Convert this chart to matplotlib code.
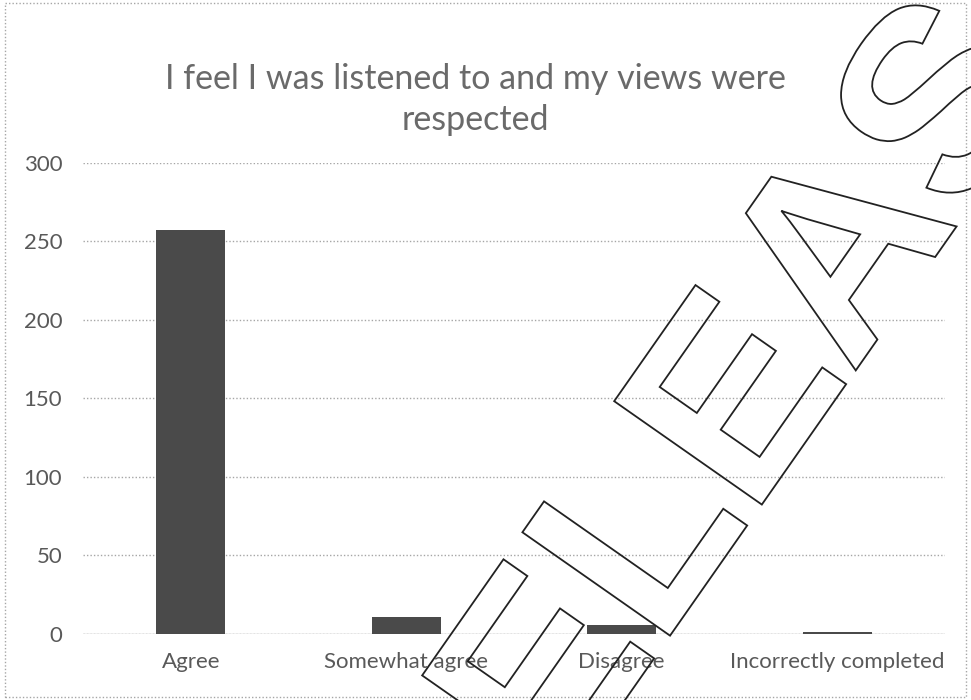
import matplotlib
matplotlib.use("Agg")
import matplotlib.pyplot as plt
from matplotlib.patches import Rectangle, PathPatch
from matplotlib.textpath import TextPath, text_to_path
from matplotlib.font_manager import FontProperties
from matplotlib.transforms import Affine2D, IdentityTransform

categories = ["Agree", "Somewhat agree", "Disagree", "Incorrectly completed"]
responses = [257, 11, 6, 1]
y_ticks = [0, 50, 100, 150, 200, 250, 300]
title = "I feel I was listened to and my views were\nrespected"
stamp = "RELEASED"

text_grey = "#595959"
grid_grey = "#a6a6a6"
bar_grey = "#4a4a4a"

plt.rcParams["font.family"] = ["Lato", "DejaVu Sans"]

fig = plt.figure(figsize=(9.71, 7.00), dpi=100)
ax = fig.add_axes([0.0855, 0.0943, 0.8877, 0.6729])

x = list(range(len(categories)))
ax.bar(x, responses, width=0.32, color=bar_grey, zorder=3)

ax.set_xlim(-0.5, len(categories) - 0.5)
ax.set_ylim(0, 300)
ax.set_yticks(y_ticks)
ax.set_yticklabels([str(t) for t in y_ticks])
ax.set_xticks(x)
ax.set_xticklabels(categories)

# dotted horizontal gridlines, no spines
ax.yaxis.grid(True, color=grid_grey, linestyle=(0, (1, 1.5)), linewidth=1.0, zorder=0)
for side in ["top", "right", "left", "bottom"]:
    ax.spines[side].set_visible(False)
ax.axhline(0, color="#bfbfbf", linewidth=1.0, zorder=2)

ax.tick_params(axis="both", length=0, colors=text_grey, labelsize=16)
ax.tick_params(axis="y", pad=15)
ax.tick_params(axis="x", pad=13)

fig.text(0.49, 0.858, title, ha="center", va="center", fontsize=24.5,
         color="#6a6a6a", linespacing=1.32)

# chart frame
fig.patches.append(Rectangle((0.005, 0.004), 0.99, 0.992, transform=fig.transFigure,
                             fill=False, edgecolor=grid_grey, linewidth=1.0,
                             linestyle=(0, (1, 1.5))))

# outlined stamp across the chart
prop = FontProperties(family="Liberation Sans", weight="bold", size=262)
tp = TextPath((0, 0), stamp, prop=prop)
offset_l = text_to_path.get_text_width_height_descent(stamp[:2], prop, ismath=False)[0]
h_px = fig.get_figheight() * fig.dpi
place = Affine2D().translate(-offset_l, 0).rotate_deg(55).translate(660, h_px - 650)
stamp_path = place.transform_path(tp)
fig.patches.append(PathPatch(stamp_path, transform=IdentityTransform(),
                             facecolor="none", edgecolor="#222222", linewidth=1.3,
                             zorder=10))

fig.savefig("out.png", dpi=100)
